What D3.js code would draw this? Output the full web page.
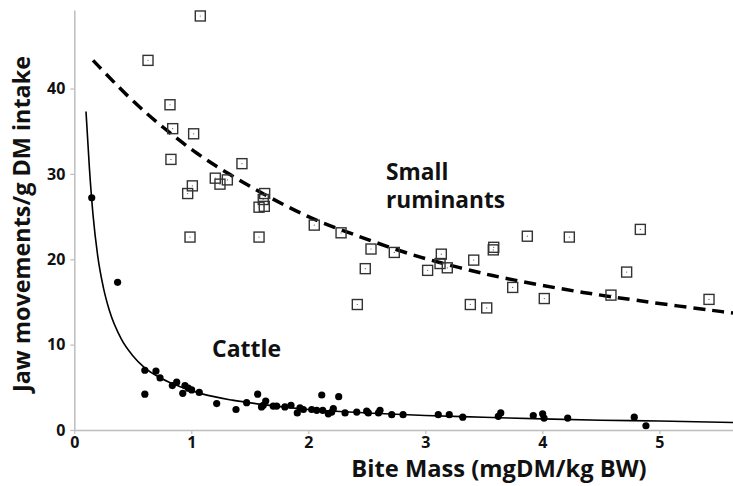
<!DOCTYPE html>
<html>
<head>
<meta charset="utf-8">
<script src="https://cdn.jsdelivr.net/npm/d3@7"></script>
<style>
  html, body { margin: 0; padding: 0; background: #fff; }
  svg { display: block; }
  text { font-family: "Open Sans", "Noto Sans", sans-serif; font-weight: 700; fill: #111; }
</style>
</head>
<body>
<svg id="chart" width="733" height="486"></svg>
<script>
// ---- Data ----
// Small ruminants (open squares)
const smallX = [0.63, 1.077, 0.818, 0.841, 1.02, 0.826, 1.433, 1.205, 1.308, 1.245, 1.009, 0.969,
  1.627, 1.615, 1.579, 1.624, 2.051, 0.989, 1.579, 2.28, 2.536, 2.735, 2.487, 3.137, 3.126, 3.188,
  3.02, 3.414, 3.581, 3.585, 3.747, 2.419, 3.385, 3.525, 3.872, 4.231, 4.838, 4.721, 4.587, 4.017, 5.425];
const smallY = [43.3, 48.5, 38.1, 35.3, 34.7, 31.7, 31.2, 29.5, 29.3, 28.8, 28.6, 27.7,
  27.7, 27.0, 26.1, 26.2, 24.0, 22.6, 22.6, 23.1, 21.2, 20.8, 18.9, 20.6, 19.5, 19.0,
  18.7, 19.9, 21.1, 21.4, 16.7, 14.7, 14.7, 14.3, 22.7, 22.6, 23.5, 18.5, 15.8, 15.4, 15.3];

// Cattle (filled circles)
const cattleX = [0.149, 0.37, 0.603, 0.603, 0.698, 0.733, 0.838, 0.875, 0.927, 0.946, 0.974, 1.003, 1.068,
  1.217, 1.382, 1.473, 1.567, 1.615, 1.636, 1.6, 1.7, 1.73, 1.80, 1.852, 1.906, 1.929, 1.958,
  2.029, 2.072, 2.115, 2.123, 2.171, 2.214, 2.26, 2.20, 2.314, 2.414, 2.499, 2.513, 2.6,
  2.613, 2.713, 2.81, 3.111, 3.205, 3.32, 3.624, 3.645, 3.923, 4.003, 4.015, 4.217, 4.786, 4.886];
const cattleY = [27.2, 17.3, 7.0, 4.2, 6.9, 6.1, 5.2, 5.6, 4.3, 5.2, 4.9, 4.7, 4.4,
  3.1, 2.4, 3.2, 4.2, 2.9, 3.4, 2.7, 2.8, 2.8, 2.7, 2.9, 2.0, 2.6, 2.4,
  2.4, 2.3, 4.1, 2.3, 1.9, 2.5, 3.9, 2.1, 2.0, 2.1, 2.2, 2.0, 2.0,
  2.3, 1.8, 1.8, 1.8, 1.8, 1.5, 1.6, 2.0, 1.7, 1.9, 1.4, 1.4, 1.5, 0.5];

// Fitted curves
const smallFitX = [0.16, 0.48, 0.76, 1.05, 1.33, 1.62, 1.90, 2.13, 2.39, 2.67, 2.96, 3.24, 3.53, 3.78, 4.21, 4.59, 5.06, 5.63];
const smallFitY = [43.3, 38.7, 35.4, 32.3, 29.9, 27.6, 25.6, 24.2, 22.9, 21.5, 20.2, 19.2, 18.2, 17.5, 16.4, 15.6, 14.7, 13.7];
const cattleFitX = [0.10, 0.13, 0.16, 0.20, 0.25, 0.30, 0.40, 0.50, 0.60, 0.75, 0.90, 1.10, 1.35, 1.60, 2.00, 2.50, 3.00, 3.50, 4.00, 4.50, 5.00, 5.63];
const cattleFitY = [37.3, 30.5, 25.2, 20.4, 16.6, 14.0, 10.7, 8.7, 7.3, 6.0, 5.1, 4.2, 3.5, 3.0, 2.4, 2.0, 1.7, 1.5, 1.3, 1.15, 1.05, 0.88];

const xTicks = [0, 1, 2, 3, 4, 5];
const yTicks = [0, 10, 20, 30, 40];
const xTitle = "Bite Mass (mgDM/kg BW)";
const yTitle = "Jaw movements/g DM intake";
const labelSmall = ["Small", "ruminants"];
const labelCattle = "Cattle";

// ---- Drawing ----
const svg = d3.select("#chart");
const x = d3.scaleLinear().domain([0, 5.63]).range([74.3, 733]);
const y = d3.scaleLinear().domain([0, 49.2]).range([430, 10]);
const axisColor = "#bdbdbd";

// X axis
const gx = svg.append("g").attr("transform", `translate(0,${y(0)})`)
  .call(d3.axisBottom(x).tickValues(xTicks).tickFormat(d3.format("d")).tickSize(4).tickSizeOuter(0).tickPadding(3));
gx.select(".domain").attr("stroke", axisColor).attr("stroke-width", 1.5);
gx.selectAll(".tick line").attr("stroke", axisColor).attr("stroke-width", 1.2);
gx.selectAll(".tick text").attr("font-size", 16).attr("font-family", "Open Sans, sans-serif")
  .attr("font-weight", 800).attr("fill", "#111");

// Y axis
const gy = svg.append("g").attr("transform", `translate(${x(0)},0)`)
  .call(d3.axisLeft(y).tickValues(yTicks).tickFormat(d3.format("d")).tickSize(4).tickSizeOuter(0).tickPadding(5));
gy.select(".domain").attr("stroke", axisColor).attr("stroke-width", 1.5);
gy.selectAll(".tick line").attr("stroke", axisColor).attr("stroke-width", 1.2);
gy.selectAll(".tick text").attr("font-size", 16).attr("font-family", "Open Sans, sans-serif")
  .attr("font-weight", 800).attr("fill", "#111");

// Fit lines
const smallFit = smallFitX.map((d, i) => [d, smallFitY[i]]);
const cattleFit = cattleFitX.map((d, i) => [d, cattleFitY[i]]);

svg.append("path").datum(cattleFit)
  .attr("fill", "none").attr("stroke", "#000").attr("stroke-width", 1.6)
  .attr("d", d3.line().x(d => x(d[0])).y(d => y(d[1])).curve(d3.curveMonotoneX));

svg.append("path").datum(smallFit)
  .attr("fill", "none").attr("stroke", "#000").attr("stroke-width", 3.5)
  .attr("stroke-dasharray", "12,7")
  .attr("d", d3.line().x(d => x(d[0])).y(d => y(d[1])).curve(d3.curveBasis));

// Small ruminant squares
const sq = 10;
const smallPts = smallX.map((d, i) => [d, smallY[i]]);
const gs = svg.append("g");
gs.selectAll("rect").data(smallPts).join("rect")
  .attr("x", d => x(d[0]) - sq / 2).attr("y", d => y(d[1]) - sq / 2)
  .attr("width", sq).attr("height", sq)
  .attr("fill", "none").attr("stroke", "#333").attr("stroke-width", 1.4);
gs.selectAll("circle").data(smallPts).join("circle")
  .attr("cx", d => x(d[0])).attr("cy", d => y(d[1])).attr("r", 0.6).attr("fill", "#555");

// Cattle dots
const cattlePts = cattleX.map((d, i) => [d, cattleY[i]]);
svg.append("g").selectAll("circle").data(cattlePts).join("circle")
  .attr("cx", d => x(d[0])).attr("cy", d => y(d[1])).attr("r", 3.6).attr("fill", "#000");

// Annotations
svg.append("text").attr("x", 386).attr("y", 180).attr("font-size", 22.7).text(labelSmall[0]);
svg.append("text").attr("x", 386).attr("y", 208).attr("font-size", 22.7).text(labelSmall[1]);
svg.append("text").attr("x", 212).attr("y", 357).attr("font-size", 23).text(labelCattle);

// Axis titles
svg.append("text").attr("x", 499).attr("y", 477).attr("text-anchor", "middle")
  .attr("font-size", 23.7).text(xTitle);
svg.append("text").attr("transform", "translate(30,224) rotate(-90)").attr("text-anchor", "middle")
  .attr("font-size", 23.4).text(yTitle);
</script>
</body>
</html>
